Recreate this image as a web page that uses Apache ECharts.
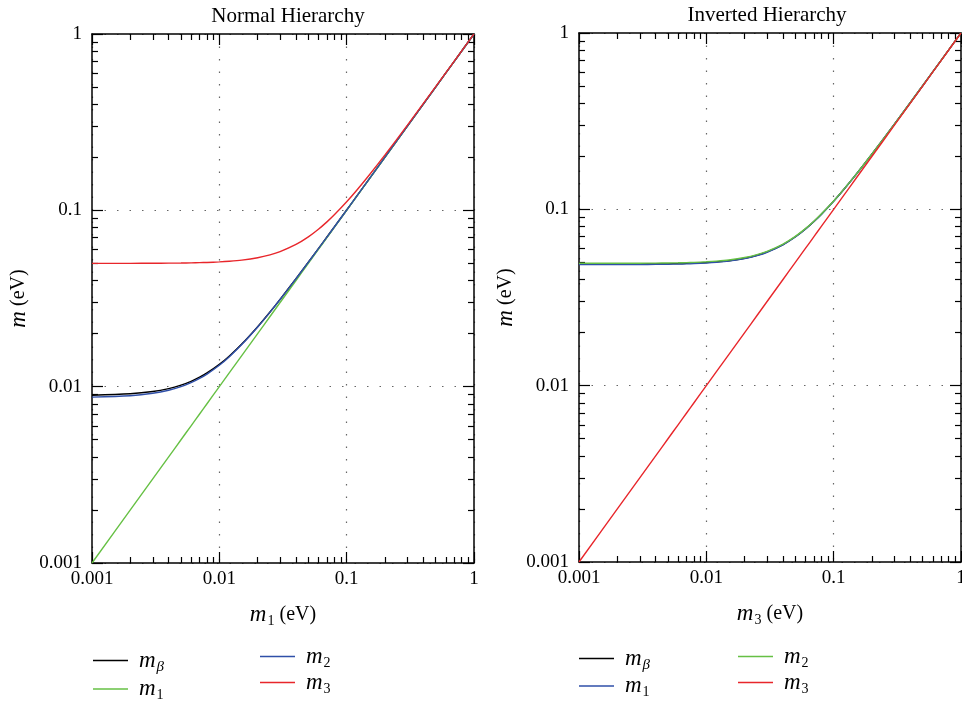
<!DOCTYPE html>
<html>
<head>
<meta charset="utf-8">
<script src="https://cdn.jsdelivr.net/npm/echarts@6/dist/echarts.min.js"></script>
<style>
  html, body { margin: 0; padding: 0; background: #fff; }
  #chart { width: 962px; height: 701px; }
</style>
</head>
<body>
<div id="chart"></div>
<script>
// lightest mass (x) sample points, eV
const lightest = [0.001, 0.002, 0.003, 0.004, 0.005, 0.006, 0.007, 0.008, 0.01, 0.012, 0.015, 0.02, 0.025, 0.03,
  0.04, 0.05, 0.06, 0.07, 0.08, 0.1, 0.12, 0.15, 0.2, 0.3, 0.5, 0.7, 1]

// Normal Hierarchy
const nhMb = [0.00894, 0.00911, 0.00938, 0.00975, 0.0102, 0.01072, 0.01131, 0.01196, 0.01338, 0.01493, 0.01744,
  0.02189, 0.02653, 0.03129, 0.04098, 0.05078, 0.06065, 0.07056, 0.08049, 0.10039, 0.12033, 0.15026, 0.2002,
  0.30013, 0.50008, 0.70006, 1.00004]
const nhM1 = [0.001, 0.002, 0.003, 0.004, 0.005, 0.006, 0.007, 0.008, 0.01, 0.012, 0.015, 0.02, 0.025, 0.03,
  0.04, 0.05, 0.06, 0.07, 0.08, 0.1, 0.12, 0.15, 0.2, 0.3, 0.5, 0.7, 1]
const nhM2 = [0.00872, 0.00889, 0.00917, 0.00954, 0.01, 0.01054, 0.01114, 0.01179, 0.01323, 0.0148, 0.01732,
  0.02179, 0.02646, 0.03122, 0.04093, 0.05074, 0.06062, 0.07053, 0.08047, 0.10037, 0.12031, 0.15025, 0.20019,
  0.30012, 0.50008, 0.70005, 1.00004]
const nhM3 = [0.05001, 0.05004, 0.05009, 0.05016, 0.05025, 0.05036, 0.05049, 0.05064, 0.05099, 0.05142, 0.0522,
  0.05385, 0.0559, 0.05831, 0.06403, 0.07071, 0.0781, 0.08602, 0.09434, 0.1118, 0.13, 0.15811, 0.20616,
  0.30414, 0.5025, 0.70178, 1.00125]

// Inverted Hierarchy
const ihMb = [0.0489, 0.04893, 0.04898, 0.04905, 0.04914, 0.04925, 0.04939, 0.04954, 0.0499, 0.05034, 0.05114,
  0.05282, 0.05491, 0.05736, 0.06317, 0.06993, 0.0774, 0.08538, 0.09375, 0.11131, 0.12958, 0.15777, 0.20589,
  0.30396, 0.50238, 0.7017, 1.00119]
const ihM1 = [0.04859, 0.04862, 0.04867, 0.04874, 0.04884, 0.04895, 0.04908, 0.04923, 0.0496, 0.05004, 0.05084,
  0.05254, 0.05464, 0.0571, 0.06293, 0.06971, 0.0772, 0.08521, 0.09359, 0.11118, 0.12946, 0.15767, 0.20582,
  0.30391, 0.50235, 0.70168, 1.00118]
const ihM2 = [0.04941, 0.04944, 0.04949, 0.04956, 0.04965, 0.04976, 0.04989, 0.05004, 0.0504, 0.05083, 0.05162,
  0.05329, 0.05536, 0.05779, 0.06356, 0.07029, 0.07772, 0.08567, 0.09402, 0.11153, 0.12977, 0.15792, 0.20601,
  0.30404, 0.50244, 0.70174, 1.00122]
const ihM3 = [0.001, 0.002, 0.003, 0.004, 0.005, 0.006, 0.007, 0.008, 0.01, 0.012, 0.015, 0.02, 0.025, 0.03,
  0.04, 0.05, 0.06, 0.07, 0.08, 0.1, 0.12, 0.15, 0.2, 0.3, 0.5, 0.7, 1]

// minor tick positions (2..9 in each decade)
const minorTicks = [0.002, 0.003, 0.004, 0.005, 0.006, 0.007, 0.008, 0.009,
  0.02, 0.03, 0.04, 0.05, 0.06, 0.07, 0.08, 0.09,
  0.2, 0.3, 0.4, 0.5, 0.6, 0.7, 0.8, 0.9]

const FONT = 'Liberation Serif'
const colors = { black: '#000000', green: '#66c044', blue: '#2f4fa8', red: '#e8262b' }

const rich = {
  i: { fontFamily: FONT, fontStyle: 'italic', fontSize: 23, color: '#000' },
  n: { fontFamily: FONT, fontSize: 20, color: '#000' },
  s: { fontFamily: FONT, fontSize: 14, color: '#000', verticalAlign: 'bottom', padding: [13, 0, 0, 1] },
  si: { fontFamily: FONT, fontStyle: 'italic', fontSize: 15, color: '#000', verticalAlign: 'bottom', padding: [13, 0, 0, 1] }
}

const legendLabels = {
  'mβ (NH)': '{i|m}{si|β}', 'm1 (NH)': '{i|m}{s|1}', 'm2 (NH)': '{i|m}{s|2}', 'm3 (NH)': '{i|m}{s|3}',
  'mβ (IH)': '{i|m}{si|β}', 'm1 (IH)': '{i|m}{s|1}', 'm2 (IH)': '{i|m}{s|2}', 'm3 (IH)': '{i|m}{s|3}'
}

function axisSet(dim, grid, nameText) {
  const sides = dim === 'x' ? ['bottom', 'top'] : ['left', 'right']
  const base = {
    type: 'log', logBase: 10, min: 0.001, max: 1, gridIndex: grid
  }
  const list = []
  sides.forEach((pos, k) => {
    // major
    list.push(Object.assign({}, base, {
      position: pos,
      name: k === 0 ? nameText : '',
      nameLocation: 'middle',
      nameGap: dim === 'x' ? 38 : 62,
      nameTextStyle: { rich: rich },
      axisLine: { show: true, onZero: false, lineStyle: { color: '#000', width: 1.5 } },
      axisTick: { show: true, inside: true, length: 11, lineStyle: { color: '#000', width: 1.2 } },
      axisLabel: {
        show: k === 0, color: '#000', fontFamily: FONT, fontSize: 19, margin: dim === 'x' ? 7 : 10,
        formatter: v => String(Number(v.toPrecision(3)))
      },
      splitLine: {
        show: k === 0,
        lineStyle: { color: '#666', width: 1.2, type: [1.5, 11] }
      }
    }))
    // minor
    list.push(Object.assign({}, base, {
      position: pos,
      axisLine: { show: false },
      axisTick: { show: true, inside: true, length: 6, customValues: minorTicks, lineStyle: { color: '#000', width: 1.2 } },
      axisLabel: { show: false },
      splitLine: { show: false }
    }))
  })
  return list
}

const xAxes = [].concat(axisSet('x', 0, '{i|m}{s|1}{n| (eV)}'), axisSet('x', 1, '{i|m}{s|3}{n| (eV)}'))
const yAxes = [].concat(axisSet('y', 0, '{i|m}{n| (eV)}'), axisSet('y', 1, '{i|m}{n| (eV)}'))

function pairs(ys) {
  return lightest.map((x, i) => [x, ys[i]])
}

function line(name, ys, color, axisIdx) {
  return {
    name: name,
    type: 'line',
    xAxisIndex: axisIdx,
    yAxisIndex: axisIdx,
    data: pairs(ys),
    symbol: 'none',
    smooth: 0.3,
    silent: true,
    lineStyle: { color: color, width: 1.4 },
    itemStyle: { color: color },
    animation: false
  }
}

function legend(names, left, top, gap) {
  return {
    data: names.map(n => ({ name: n, icon: 'rect' })),
    orient: 'vertical',
    left: left,
    top: top,
    height: 90,
    padding: 0,
    itemWidth: 35,
    itemHeight: 1.6,
    itemGap: gap,
    selectedMode: false,
    formatter: n => legendLabels[n],
    textStyle: { rich: rich, padding: [0, 0, 0, 6] }
  }
}

const chart = echarts.init(document.getElementById('chart'))

const titleStyle = { fontFamily: FONT, fontSize: 21, fontWeight: 'normal', color: '#000' }

const option = {
  backgroundColor: '#fff',
  animation: false,
  title: [
    { text: 'Normal Hierarchy', left: 283, top: 1, textAlign: 'center', textStyle: titleStyle },
    { text: 'Inverted Hierarchy', left: 762, top: 0, textAlign: 'center', textStyle: titleStyle }
  ],
  grid: [
    { left: 92, top: 34, width: 382, height: 529, outerBoundsMode: 'none' },
    { left: 579, top: 33, width: 382, height: 529, outerBoundsMode: 'none' }
  ],
  xAxis: xAxes,
  yAxis: yAxes,
  legend: [
    legend(['mβ (NH)', 'm1 (NH)'], 93, 649, 3),
    legend(['m2 (NH)', 'm3 (NH)'], 260, 645, 1),
    legend(['mβ (IH)', 'm1 (IH)'], 579, 647, 2),
    legend(['m2 (IH)', 'm3 (IH)'], 738, 645, 1)
  ],
  series: [
    line('mβ (NH)', nhMb, colors.black, 0),
    line('m1 (NH)', nhM1, colors.green, 0),
    line('m2 (NH)', nhM2, colors.blue, 0),
    line('m3 (NH)', nhM3, colors.red, 0),
    line('mβ (IH)', ihMb, colors.black, 4),
    line('m1 (IH)', ihM1, colors.blue, 4),
    line('m2 (IH)', ihM2, colors.green, 4),
    line('m3 (IH)', ihM3, colors.red, 4)
  ]
}

chart.setOption(option)
</script>
</body>
</html>
